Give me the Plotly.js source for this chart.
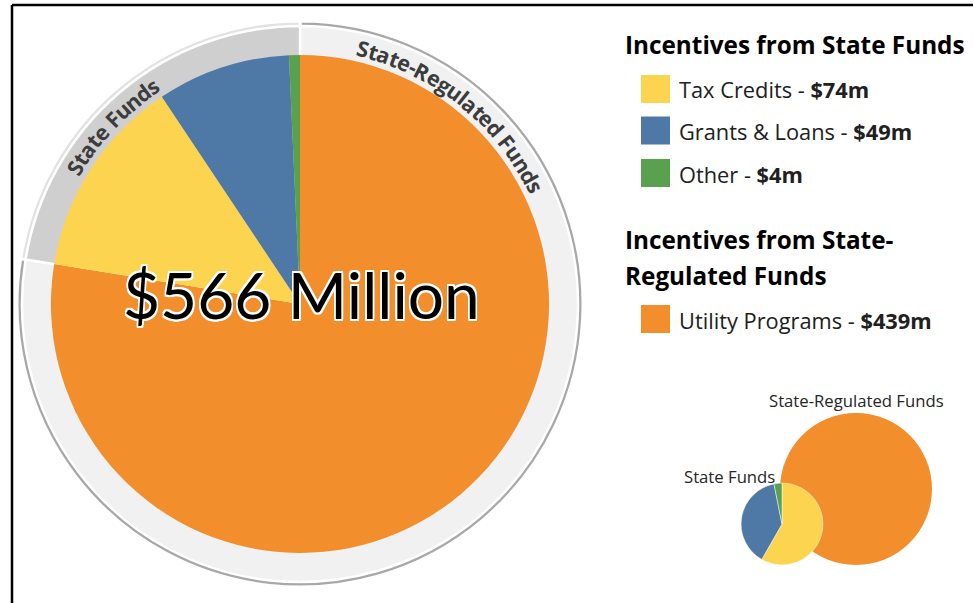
<!DOCTYPE html>
<html>
<head>
<meta charset="utf-8">
<script src="https://cdn.plot.ly/plotly-3.0.1.min.js"></script>
<style>
  html, body { margin: 0; padding: 0; background: #fff; }
  #chart { width: 974px; height: 603px; }
</style>
</head>
<body>
<div id="chart"></div>
<script>
// ---------------- DATA ----------------
const programLabels = ['Utility Programs', 'Tax Credits', 'Grants & Loans', 'Other'];
const programValues = [439, 74, 49, 4];
const programSource = ['State-Regulated Funds', 'State Funds', 'State Funds', 'State Funds'];
const programColors = ['#F28E2B', '#FDD44F', '#4E79A7', '#59A14F'];

const sourceLabels = ['State-Regulated Funds', 'State Funds'];
const sourceRingColors = ['#F1F1F1', '#D0CFD0'];
const sourceBorderColors = ['#A8A8A8', '#E2E2E2'];

const legendHeadings = ['Incentives from State Funds', 'Incentives from State-', 'Regulated Funds'];
const unitSuffix = 'm';
const totalLabelSuffix = ' Million';

// ---------------- DERIVED ----------------
const sourceTotals = sourceLabels.map(s =>
  programValues.reduce((acc, v, i) => acc + (programSource[i] === s ? v : 0), 0));
const grandTotal = programValues.reduce((a, b) => a + b, 0);
const stateIdx = programSource.map((s, i) => s === 'State Funds' ? i : -1).filter(i => i >= 0);
const regIdx = programSource.map((s, i) => s === 'State-Regulated Funds' ? i : -1).filter(i => i >= 0);

// ---------------- GEOMETRY ----------------
const W = 974, H = 603;
const C = { x: 300, y: 304 };
const R_PIE = 249, R_RING = 278, R_BORDER = 283, R_TEXT = 263;
const SMALL = { x: 856, y: 489, r: 76 };
const smallR = SMALL.r * Math.sqrt(sourceTotals[1] / sourceTotals[0]);
const SMALL_PIE = { x: 782, y: 524 };

function dom(cx, cy, r) {
  return { x: [(cx - r) / W, (cx + r) / W], y: [(H - cy - r) / H, (H - cy + r) / H] };
}
const px = x => x / W;
const py = y => (H - y) / H;

const OS = '"Open Sans", sans-serif';
const LATO = 'Lato, sans-serif';

// text measuring helpers (canvas), used to fit font sizes to the reference widths
const mctx = document.createElement('canvas').getContext('2d');
function textWidth(parts, size) {
  return parts.reduce((acc, p) => {
    mctx.font = `${p.weight || 400} ${size}px ${p.family}`;
    return acc + mctx.measureText(p.t).width;
  }, 0);
}
function fitSize(parts, target) {
  const base = 20;
  return Math.round(base * target / textWidth(parts, base) * 10) / 10;
}

const common = { type: 'pie', sort: false, direction: 'clockwise', rotation: 0,
  textinfo: 'none', hoverinfo: 'skip', showlegend: false };

const traces = [
  Object.assign({}, common, { values: sourceTotals, labels: sourceLabels,
    marker: { colors: sourceBorderColors, line: { color: '#ffffff', width: 3 } },
    domain: dom(C.x, C.y, R_BORDER) }),
  Object.assign({}, common, { values: sourceTotals, labels: sourceLabels,
    marker: { colors: sourceRingColors, line: { color: '#ffffff', width: 2.5 } },
    domain: dom(C.x, C.y, R_RING) }),
  Object.assign({}, common, { values: programValues, labels: programLabels,
    marker: { colors: programColors, line: { width: 0 } },
    domain: dom(C.x, C.y, R_PIE) }),
  Object.assign({}, common, { values: regIdx.map(i => programValues[i]), labels: regIdx.map(i => programLabels[i]),
    marker: { colors: regIdx.map(i => programColors[i]), line: { width: 0 } },
    domain: dom(SMALL.x, SMALL.y, SMALL.r) }),
  Object.assign({}, common, { values: stateIdx.map(i => programValues[i]), labels: stateIdx.map(i => programLabels[i]),
    marker: { colors: stateIdx.map(i => programColors[i]), line: { color: 'rgba(255,255,255,0.6)', width: 0.8 } },
    domain: dom(SMALL_PIE.x, SMALL_PIE.y, smallR) })
];

// ---------------- CURVED RING TEXT ----------------
function arcText(str, a0, a1, r, font) {
  const chars = [...str];
  mctx.font = `${font.weight} ${font.size}px ${font.family}`;
  const widths = chars.map(ch => mctx.measureText(ch).width);
  let acc = 0;
  const centers = widths.map(w => { const c = acc + w / 2; acc += w; return c; });
  const span = centers[centers.length - 1] - centers[0];
  const out = [];
  chars.forEach((ch, i) => {
    if (ch === ' ') return;
    const ang = a0 + (centers[i] - centers[0]) / span * (a1 - a0);
    const rad = ang * Math.PI / 180;
    const x = C.x + r * Math.sin(rad), y = C.y - r * Math.cos(rad);
    out.push({ x: px(x), y: py(y), xref: 'paper', yref: 'paper', text: ch, showarrow: false,
      textangle: ang, xanchor: 'center', yanchor: 'middle', font: font, borderpad: 0 });
  });
  return out;
}
const ringFont = { family: OS, size: 21.5, weight: 700, color: '#3C3C3C' };

const annotations = [];
annotations.push(...arcText(sourceLabels[1], -58.8, -34, R_TEXT, ringFont));
annotations.push(...arcText(sourceLabels[0], 13.9, 63.5, R_TEXT, ringFont));

// big total
const w = 1.6;
const outline = [[-w,-w],[w,-w],[-w,w],[w,w],[0,w],[0,-w],[w,0],[-w,0]]
  .map(p => `${p[0]}px ${p[1]}px 0 #ffffff`).join(', ');
annotations.push({ x: px(301.5), y: py(294), xref: 'paper', yref: 'paper', showarrow: false,
  text: '$' + grandTotal + totalLabelSuffix, xanchor: 'center', yanchor: 'middle',
  font: { family: LATO, size: 64, color: '#000000', shadow: outline } });

// legend
const headSize = fitSize([{ t: legendHeadings[0], weight: 700, family: OS }], 340);
const headFont = { family: OS, size: headSize, weight: 700, color: '#000000' };
const itemSize = fitSize([{ t: programLabels[1] + ' - ', family: OS },
  { t: '$' + programValues[1] + unitSuffix, weight: 700, family: OS }], 190);
const itemFont = { family: OS, size: itemSize, color: '#202020' };
const headY = [44, 240, 275];
legendHeadings.forEach((t, i) => annotations.push({ x: px(623), y: py(headY[i]), xref: 'paper', yref: 'paper',
  showarrow: false, text: t, xanchor: 'left', yanchor: 'middle', font: headFont }));

const itemOrder = stateIdx.concat(regIdx);
const itemY = [89, 130.5, 173, 319];
const shapes = [];
itemOrder.forEach((idx, k) => {
  const yc = itemY[k];
  shapes.push({ type: 'rect', xref: 'paper', yref: 'paper', x0: px(641), x1: px(670),
    y0: py(yc + 14), y1: py(yc - 14), fillcolor: programColors[idx], line: { width: 0 } });
  annotations.push({ x: px(677), y: py(yc + 1), xref: 'paper', yref: 'paper', showarrow: false,
    xanchor: 'left', yanchor: 'middle', font: itemFont,
    text: programLabels[idx] + ' - <b>$' + programValues[idx] + unitSuffix + '</b>' });
});

// small diagram labels
const smallSize = fitSize([{ t: sourceLabels[0], family: OS }], 175);
const smallFont = { family: OS, size: smallSize, color: '#262626' };
annotations.push({ x: px(856), y: py(400), xref: 'paper', yref: 'paper', showarrow: false,
  text: sourceLabels[0], xanchor: 'center', yanchor: 'middle', font: smallFont });
annotations.push({ x: px(729), y: py(476), xref: 'paper', yref: 'paper', showarrow: false,
  text: sourceLabels[1], xanchor: 'center', yanchor: 'middle', font: smallFont });

// frame lines
shapes.push({ type: 'line', xref: 'paper', yref: 'paper', x0: px(12), x1: px(973), y0: py(5), y1: py(5),
  line: { color: '#000', width: 2.5 } });
shapes.push({ type: 'line', xref: 'paper', yref: 'paper', x0: px(12), x1: px(12), y0: py(5), y1: py(603),
  line: { color: '#000', width: 2.5 } });

const layout = {
  width: W, height: H, margin: { l: 0, r: 0, t: 0, b: 0 },
  paper_bgcolor: '#ffffff', plot_bgcolor: '#ffffff', showlegend: false,
  annotations: annotations, shapes: shapes
};

Plotly.newPlot('chart', traces, layout, { staticPlot: true, displayModeBar: false });
</script>
</body>
</html>
